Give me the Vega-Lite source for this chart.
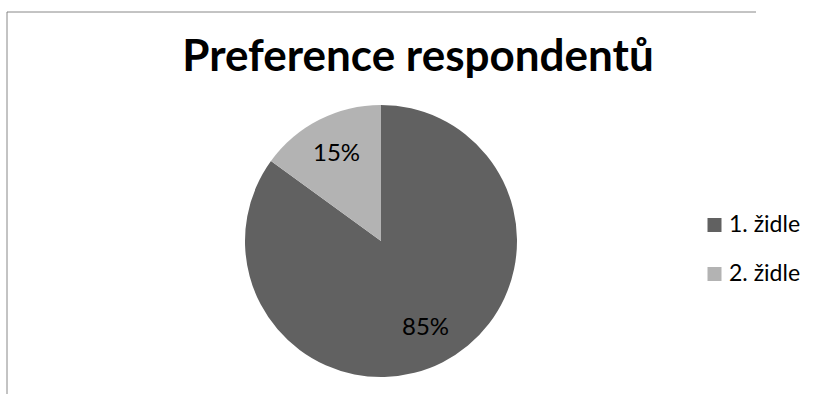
{
  "$schema": "https://vega.github.io/schema/vega-lite/v6.json",
  "width": 749,
  "height": 459,
  "autosize": {"type": "none"},
  "padding": {"left": 6.5, "top": 11.5, "right": 65.5, "bottom": -76.5},
  "background": "white",
  "view": {"stroke": "#888888", "strokeWidth": 1, "strokeDash": [749, 1208, 459, 1000]},
  "title": {
    "text": "Preference respondentů",
    "font": "Lato",
    "fontSize": 44,
    "fontWeight": "bold",
    "color": "black",
    "anchor": "middle",
    "offset": -103.5,
    "baseline": "alphabetic",
    "dx": 37
  },
  "data": {
    "values": [
      {"category": "1. židle", "share": 0.85},
      {"category": "2. židle", "share": 0.15}
    ]
  },
  "encoding": {
    "theta": {"field": "share", "type": "quantitative", "stack": true},
    "order": {"field": "category", "type": "ordinal", "sort": "ascending"},
    "color": {
      "field": "category",
      "type": "nominal",
      "scale": {"domain": ["1. židle", "2. židle"], "range": ["#616161", "#b3b3b3"]},
      "legend": {
        "title": null,
        "orient": "none",
        "legendX": 696.5,
        "legendY": 202,
        "symbolType": "square",
        "symbolSize": 196,
        "symbolStrokeWidth": 0,
        "labelFont": "Lato",
        "labelFontSize": 23,
        "labelColor": "black",
        "labelOffset": 3,
        "rowPadding": 25,
        "padding": 0
      }
    }
  },
  "layer": [
    {
      "mark": {"type": "arc", "outerRadius": 136}
    },
    {
      "mark": {"type": "text", "radius": 98, "font": "Lato", "fontSize": 24},
      "encoding": {
        "color": {"value": "black"},
        "text": {"field": "share", "type": "quantitative", "format": ".0%"}
      }
    }
  ]
}
